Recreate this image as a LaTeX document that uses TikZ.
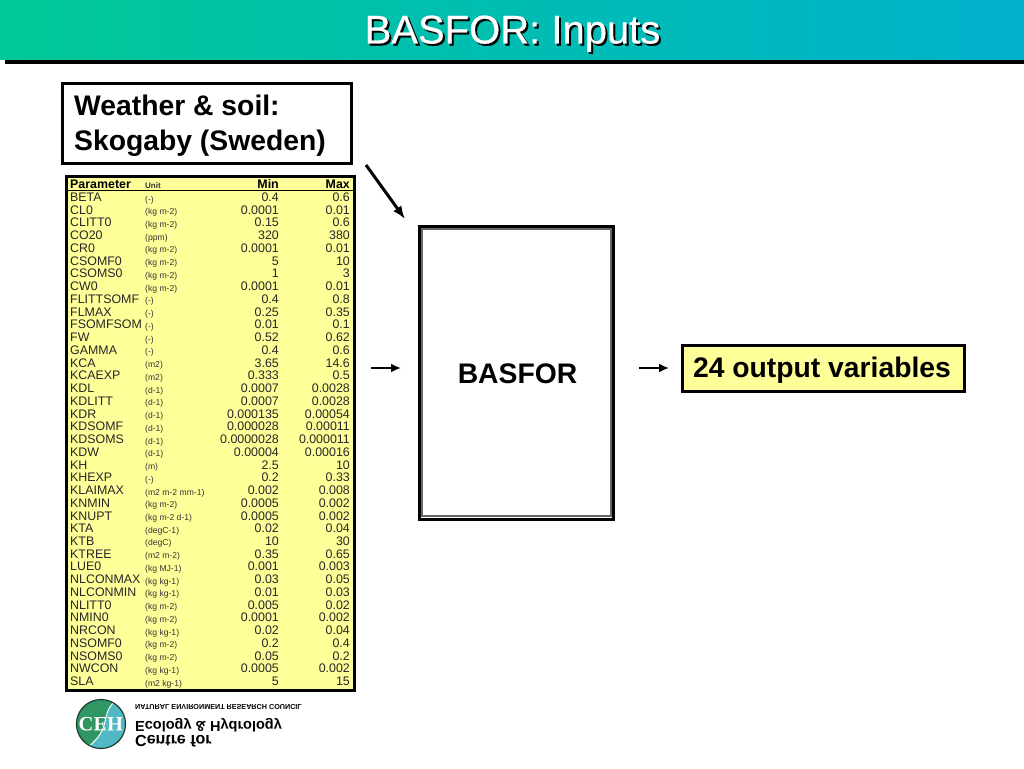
\documentclass[tikz,border=0pt]{standalone}
\usepackage{fontspec}
\setmainfont{Liberation Sans}
\newfontfamily\titlefont[FakeBold=0.5]{Liberation Sans}
\usetikzlibrary{positioning,arrows.meta}
\definecolor{headleft}{RGB}{0,200,150}
\definecolor{headright}{RGB}{0,178,205}
\definecolor{tableyellow}{RGB}{255,255,153}
\definecolor{cehgreen}{RGB}{48,150,100}
\definecolor{cehteal}{RGB}{80,185,195}
\tikzset{
  boxtext/.style={font=\fontsize{28.3}{36}\selectfont\bfseries, text=black},
  cell/.style={font=\fontsize{12.4}{13}\selectfont, text=black!85, inner sep=0pt, anchor=base west},
  unitcell/.style={font=\fontsize{8.6}{9}\selectfont, text=black!80, inner sep=0pt, anchor=base west},
  numcell/.style={font=\fontsize{12.4}{13}\selectfont, text=black!85, inner sep=0pt, anchor=base east},
  flow/.style={-{Latex[length=10pt,width=9pt]}, line width=2.5pt, black},
  bigflow/.style={-{Latex[length=13pt,width=10pt]}, line width=3pt, black},
  logotext/.style={yscale=-1, inner sep=0pt, anchor=west, text=black},
}
\begin{document}
\begin{tikzpicture}[x=1pt,y=-1pt]
  \useasboundingbox (0,0) rectangle (1024,768);
  % header band
  \fill[black] (5,55) rectangle (1024,64);
  \shade[left color=headleft, right color=headright] (0,0) rectangle (1024,59);
  \node[font=\titlefont\fontsize{40}{44}\selectfont, text=black, anchor=base, inner sep=0pt] (titleshade) at (514.5,45.5) {BASFOR: Inputs};
  \node[font=\titlefont\fontsize{40}{44}\selectfont, text=white, anchor=base, inner sep=0pt] (title) at (512.5,43.5) {BASFOR: Inputs};
  % boxes
  \node[draw, line width=3pt, fill=white, minimum width=289pt, minimum height=80pt] (weather) at (206.5,123) {};
  \node[boxtext, anchor=base west, inner sep=0pt] (weather1) at (74,115) {Weather \& soil:};
  \node[boxtext, anchor=base west, inner sep=0pt] (weather2) at (74,150) {Skogaby (Sweden)};
  \draw[gray!80!black, line width=2pt] (422,229) rectangle (611,516);
  \node[draw, line width=3pt, minimum width=194pt, minimum height=293pt] (basfor) at (516.5,372.5) {};
  \node[boxtext] (basforlabel) at (517.5,374) {BASFOR};
  \node[draw, line width=3pt, fill=tableyellow, minimum width=282pt, minimum height=46pt] (output) at (823.5,368) {};
  \node[boxtext, anchor=base, inner sep=0pt] (outputlabel) at (822,377) {24 output variables};
  % arrows
  \coordinate (a0) at (366,165);
  \coordinate (a1) at (405,219);
  \coordinate (b0) at (371,368);
  \coordinate (b1) at (401,368);
  \coordinate (c0) at (639,368);
  \coordinate (c1) at (669,368);
  \draw[bigflow] (a0) -- (a1);
  \draw[flow] (b0) -- (b1);
  \draw[flow] (c0) -- (c1);
  % parameter table
  \node[draw, line width=3pt, fill=tableyellow, minimum width=288pt, minimum height=514pt] (table) at (210.5,433.5) {};
  \node[cell, font=\fontsize{12.4}{13}\selectfont\bfseries, text=black] (hpar) at (70,188) {Parameter};
  \node[unitcell, font=\fontsize{8}{9}\selectfont\bfseries] (hunit) at (145,188) {Unit};
  \node[numcell, font=\fontsize{12.4}{13}\selectfont\bfseries, text=black] (hmin) at (279,188) {Min};
  \node[numcell, font=\fontsize{12.4}{13}\selectfont\bfseries, text=black] (hmax) at (350,188) {Max};
  \coordinate (r0) at (67,190.5);
  \coordinate (r1) at (353,190.5);
  \draw[line width=1pt] (r0) -- (r1);
  \foreach \pname/\punit/\pmin/\pmax [count=\i from 0] in {
      BETA/(-)/0.4/0.6,
      CL0/(kg m-2)/0.0001/0.01,
      CLITT0/(kg m-2)/0.15/0.6,
      CO20/(ppm)/320/380,
      CR0/(kg m-2)/0.0001/0.01,
      CSOMF0/(kg m-2)/5/10,
      CSOMS0/(kg m-2)/1/3,
      CW0/(kg m-2)/0.0001/0.01,
      FLITTSOMF/(-)/0.4/0.8,
      FLMAX/(-)/0.25/0.35,
      FSOMFSOM/(-)/0.01/0.1,
      FW/(-)/0.52/0.62,
      GAMMA/(-)/0.4/0.6,
      KCA/(m2)/3.65/14.6,
      KCAEXP/(m2)/0.333/0.5,
      KDL/(d-1)/0.0007/0.0028,
      KDLITT/(d-1)/0.0007/0.0028,
      KDR/(d-1)/0.000135/0.00054,
      KDSOMF/(d-1)/0.000028/0.00011,
      KDSOMS/(d-1)/0.0000028/0.000011,
      KDW/(d-1)/0.00004/0.00016,
      KH/(m)/2.5/10,
      KHEXP/(-)/0.2/0.33,
      KLAIMAX/(m2 m-2 mm-1)/0.002/0.008,
      KNMIN/(kg m-2)/0.0005/0.002,
      KNUPT/(kg m-2 d-1)/0.0005/0.002,
      KTA/(degC-1)/0.02/0.04,
      KTB/(degC)/10/30,
      KTREE/(m2 m-2)/0.35/0.65,
      LUE0/(kg MJ-1)/0.001/0.003,
      NLCONMAX/(kg kg-1)/0.03/0.05,
      NLCONMIN/(kg kg-1)/0.01/0.03,
      NLITT0/(kg m-2)/0.005/0.02,
      NMIN0/(kg m-2)/0.0001/0.002,
      NRCON/(kg kg-1)/0.02/0.04,
      NSOMF0/(kg m-2)/0.2/0.4,
      NSOMS0/(kg m-2)/0.05/0.2,
      NWCON/(kg kg-1)/0.0005/0.002,
      SLA/(m2 kg-1)/5/15}
  {
    \node[cell] (par\i) at (70,{201.5+12.74*\i}) {\pname};
    \node[unitcell] (unit\i) at (145,{202+12.74*\i}) {\punit};
    \node[numcell] (min\i) at (279,{201.5+12.74*\i}) {\pmin};
    \node[numcell] (max\i) at (350,{201.5+12.74*\i}) {\pmax};
  }
  % logo, printed upside down
  \fill[cehteal] (101,724) circle (24);
  \begin{scope}
    \clip (101,724) circle (24);
    \fill[cehgreen] (70,695) -- (114,695) -- (114,702) .. controls (100,716) and (112,728) .. (88,747) -- (88,755) -- (70,755) -- cycle;
    \draw[white, line width=1pt] (114,702) .. controls (100,716) and (112,728) .. (88,747);
  \end{scope}
  \draw[black!60!cehgreen, line width=1.2pt] (101,724) circle (24.5);
  \node[logotext, font=\fontsize{20.5}{22}\selectfont\bfseries, text=white] (cehlabel) at (78.5,724) {\fontspec{Liberation Serif}CEH};
  \node[logotext, font=\fontsize{7.2}{8}\selectfont\bfseries] (council) at (135,707) {NATURAL ENVIRONMENT RESEARCH COUNCIL};
  \node[logotext, font=\fontsize{14.5}{16}\selectfont\bfseries] (ecology) at (135,725) {Ecology \& Hydrology};
  \node[logotext, font=\fontsize{16}{18}\selectfont\bfseries] (centre) at (135,741) {Centre for};
\end{tikzpicture}
\end{document}
